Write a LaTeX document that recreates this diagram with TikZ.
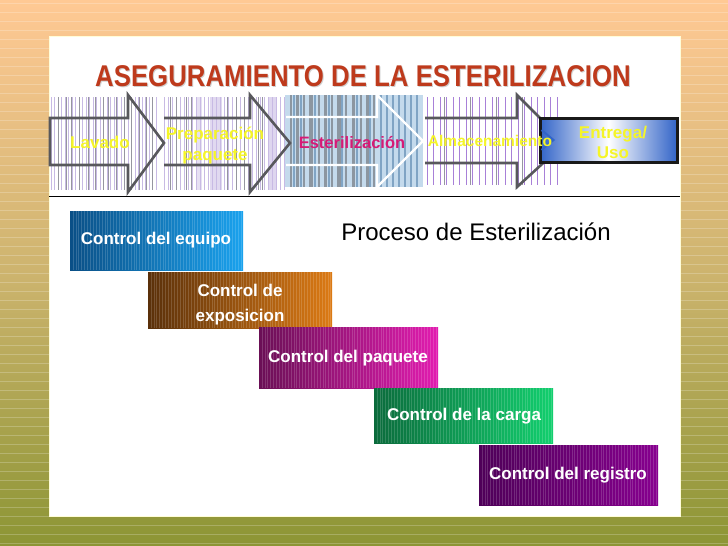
\documentclass[tikz,border=0pt]{standalone}
\usepackage{fontspec}
\setmainfont{Liberation Sans}
\definecolor{bgtop}{RGB}{255,201,148}
\definecolor{bgmid}{RGB}{205,180,110}
\definecolor{bgbot}{RGB}{140,149,52}
\definecolor{titlered}{RGB}{190,58,28}
\definecolor{yel}{RGB}{245,245,40}
\definecolor{mag}{RGB}{214,26,118}
\definecolor{lav}{RGB}{200,186,228}
\definecolor{gry}{RGB}{150,150,160}
\definecolor{arrowgray}{RGB}{88,88,92}
\definecolor{ltblue}{RGB}{196,218,236}
\definecolor{midblue}{RGB}{128,164,196}
\definecolor{bargray}{RGB}{140,150,160}
\definecolor{purp}{RGB}{168,128,216}
\definecolor{boxblue}{RGB}{50,100,200}
\tikzset{
  ctrl/.style={minimum width=#1, inner sep=0pt, outer sep=0pt,
    path picture={\foreach \i in {1,...,64}{\draw[white,opacity=0.16,line width=0.6pt]
      ([xshift=\i*2.9pt]path picture bounding box.north west) --
      ([xshift=\i*2.9pt]path picture bounding box.south west);}}},
  ctext/.style={text=white, font=\bfseries\fontsize{17}{20}\selectfont, anchor=base},
  atext/.style={text=yel, font=\bfseries\fontsize{17}{20}\selectfont, anchor=base},
  bigarrow/.style={draw=arrowgray, line width=2.6pt, line join=miter},
}
\begin{document}
\begin{tikzpicture}[x=1pt,y=-1pt]
\useasboundingbox (0,0) rectangle (728,546);
% background
\shade[top color=bgtop, bottom color=bgbot, middle color=bgmid] (0,0) rectangle (728,546);
\foreach \y in {3,12,...,546} \draw[white,opacity=0.22,line width=0.7pt] (0,\y) -- (728,\y);
\fill[white] (49,36) rectangle (680,516);
\draw[white!85!yellow,line width=0.8pt] (49,36) rectangle (680,516);
% title
\node[text=black!18, font=\bfseries\fontsize{30}{36}\selectfont, anchor=base] (titleshadow) at (364,87.7) {\scalebox{0.86}[1]{ASEGURAMIENTO DE LA ESTERILIZACION}};
\node[text=titlered, font=\bfseries\fontsize{30}{36}\selectfont, anchor=base] (title) at (363,86.7) {\scalebox{0.86}[1]{ASEGURAMIENTO DE LA ESTERILIZACION}};
% stripes arrow 1
\foreach \x in {51,54.5,...,158} \draw[lav,line width=0.9pt] (\x,97) -- (\x,190);
\foreach \x in {58,66,71,79,88,95,103,108,116,124,131,139,146,152} \draw[gry,line width=0.9pt] (\x,97) -- (\x,190);
% stripes arrow 2
\fill[lav!55] (210,97) rectangle (222,190);
\fill[lav!45] (196,97) rectangle (202,190);
\fill[lav!60] (268,97) rectangle (276,190);
\foreach \x in {164,168,...,286} \draw[lav,line width=0.8pt] (\x,97) -- (\x,190);
\foreach \x in {170,176,186,191,227,236,244,258,262} \draw[gry,line width=0.9pt] (\x,97) -- (\x,190);
% stripes arrow 3
\fill[ltblue] (285,95) rectangle (423,187);
\foreach \x/\w in {290/2,296/3,303/2,309/4,318/2,324/3,331/2,337/4,345/2,352/3,360/2,366/3,373/2} \fill[bargray] (\x,95) rectangle ++(\w,92);
\foreach \x/\w in {293/1.5,300/1.5,314/2,328/1.5,341/2,356/1.5,369/2,380/2,386/1.5,392/2,398/1.5,404/2,410/1.5,416/2} \fill[midblue] (\x,95) rectangle ++(\w,92);
% stripes arrow 4
\foreach \x in {427,433.5,...,562} \draw[purp,line width=1pt] (\x,97) -- (\x,185);
\foreach \x in {444,470,496,522} \draw[gry,line width=0.9pt] (\x,97) -- (\x,185);
% arrows
\draw[bigarrow] (50,118) -- (128,118) -- (128,95) -- (164,143) -- (128,192) -- (128,165) -- (50,165) -- cycle;
\draw[bigarrow] (164,118) -- (250,118) -- (250,95) -- (290,143) -- (250,192) -- (250,165) -- (164,165);
\draw[white,line width=2.4pt] (286,117) -- (377,117) -- (377,95) -- (423,141) -- (377,187) -- (377,165) -- (286,165);
\draw[bigarrow] (425,118) -- (517,118) -- (517,95) -- (565,143) -- (517,187) -- (517,163) -- (425,163);
% last box
\node[draw=black!90, line width=3pt, minimum width=137pt, minimum height=44pt, inner sep=0pt,
  left color=boxblue, right color=boxblue, middle color=white] (uso) at (608.5,140) {};
\draw[boxblue,line width=2pt] ([xshift=3pt,yshift=10pt]uso.west) -- ([xshift=15pt]uso.west) -- ([xshift=3pt,yshift=-10pt]uso.west);
% arrow labels
\node[atext] (lavado) at (100,148) {Lavado};
\node[atext] (prep1) at (215,139) {Preparación};
\node[atext] (prep2) at (215,160.5) {paquete};
\node[text=mag, font=\bfseries\fontsize{16.5}{20}\selectfont, anchor=base] (est) at (352,148) {Esterilización};
\node[text=yel, font=\bfseries\fontsize{15.5}{20}\selectfont, anchor=base] (alm) at (490,146) {Almacenamiento};
\node[atext] (ent1) at (613,138) {Entrega/};
\node[atext] (ent2) at (613,158) {Uso};
% separator
\draw[black,line width=1pt] (49,196) -- (680,196);
% process title
\node[font=\fontsize{24}{28}\selectfont, anchor=base] (proc) at (476,240) {Proceso de Esterilización};
% control boxes
\node[ctrl=173pt, minimum height=59pt, left color={rgb,255:red,10;green,79;blue,134}, right color={rgb,255:red,26;green,162;blue,238}] (c1) at (156.5,240.5) {};
\node[ctrl=184pt, minimum height=56pt, left color={rgb,255:red,90;green,48;blue,10}, right color={rgb,255:red,220;green,122;blue,20}] (c2) at (240,300) {};
\node[ctrl=179pt, minimum height=61pt, left color={rgb,255:red,106;green,15;blue,85}, right color={rgb,255:red,226;green,28;blue,176}] (c3) at (348.5,357.5) {};
\node[ctrl=179pt, minimum height=55pt, left color={rgb,255:red,11;green,107;blue,60}, right color={rgb,255:red,18;green,207;blue,110}] (c4) at (463.5,415.5) {};
\node[ctrl=179pt, minimum height=60pt, left color={rgb,255:red,78;green,0;blue,88}, right color={rgb,255:red,135;green,0;blue,143}] (c5) at (568.5,475) {};
\node[ctext] (t1) at (156,244) {Control del equipo};
\node[ctext] (t2a) at (240,296) {Control de};
\node[ctext] (t2b) at (240,321) {exposicion};
\node[ctext] (t3) at (348,362) {Control del paquete};
\node[ctext] (t4) at (464,420) {Control de la carga};
\node[ctext] (t5) at (568,479) {Control del registro};
\end{tikzpicture}
\end{document}
